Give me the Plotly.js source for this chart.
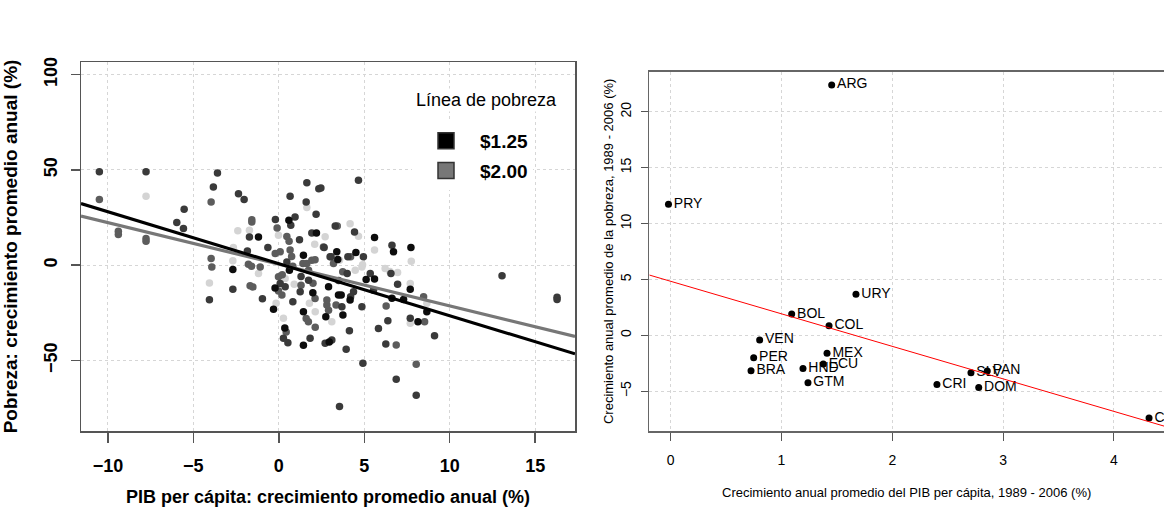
<!DOCTYPE html>
<html>
<head>
<meta charset="utf-8">
<script src="https://cdn.plot.ly/plotly-3.0.1.min.js"></script>
<style>html,body{margin:0;padding:0;background:#fff;}#chart{width:1164px;height:516px;}</style>
</head>
<body>
<div id="chart"></div>
<script>
// ---------- Left panel: poverty growth vs GDP per capita growth (spells) ----------
const blackX = [-2.69,-1.19,-0.31,-0.22,0.35,0.59,0.62,1.44,2.2,1.99,1.44,1.44,2.75,2.91,3.39,3.45,3.49,3.65,3.75,4.17,4.51,5.11,5.6,5.6,6.71,6.62,7.73,7.69,7.3,8.14,8.66,2.95];
const blackY = [-2.3,14.8,-23.1,-12,-33,23.6,-2.6,5.2,16.9,-14.5,-24.4,-42,-27.1,-11.3,7,3,-15.7,-15.7,-26.2,-18.3,6.6,-7.5,-7.3,14.5,7,-17.4,9.3,-12.6,-18,-29.7,-24.4,-40.3];

const darkX = [-10.5,-7.77,-5.97,-5.54,-5.58,-3.59,-3.83,-4.06,-2.69,-2.36,-2.03,-1.72,-1.84,-0.96,-0.64,-0.2,0.08,0.27,0.53,0.66,0.95,0.7,0.47,0.37,0.82,1.21,1.64,1.6,2.18,2.34,1.93,1.3,1.74,1.25,1.83,2.71,3.1,3.0,3.3,2.46,2.65,3.06,4.43,4.04,4.66,4.95,4.0,3.5,3.69,4.37,4.2,4.13,3.94,4.86,4.92,3.55,5.35,5.54,5.83,6.56,6.62,6.95,6.38,6.26,6.87,7.69,8.04,9.11,13.06,16.28,16.28];
const darkY = [49,49,22.4,29.4,19.2,48.3,41,-18.2,-12.6,37.5,34.4,14.8,7.5,-17.6,9.3,24,-9.6,-38.4,-40.7,36.1,25.3,21,1.7,-11.3,-19.2,13.4,43.3,33.1,26.7,40.1,16.9,-6,-7.9,-14,-38.4,-41,-39.3,4.4,20.5,40.5,9.3,4.4,17.4,4.4,44.5,4.4,-4.4,-8,-21.8,-14,-16.5,-34.4,-44.1,-21.8,-51.5,-74.2,-4.4,-13.1,-33.2,-4.4,10.5,-10,-29.1,-41.4,-59.8,-27.9,-68.2,-37,-5.6,-18,-16.8];

const grayX = [-10.5,-9.39,-9.39,-7.77,-7.77,-3.96,-3.96,-3.92,-1.58,-1.58,-1.78,-1.6,-1.09,-1.68,-1.52,-0.1,-0.21,0.08,-0.02,-0.02,0.43,0.47,0.6,0.66,0.75,0.82,0.2,0.18,2.61,1.41,1.64,1.93,2.12,1.74,2.0,1.3,2.12,1.6,1.73,2.13,2.91,2.81,2.81,3.2,3.42,4.2,3.74,3.35,6.28,6.87,8.53,8.47,8.04];
const grayY = [34.4,17.8,16.1,14,12.6,33.1,3.5,-0.9,23.9,22.6,0.5,-0.6,-0.9,-10.8,-11.4,19.5,6.1,7,-6.1,-13.5,-35,15,12.5,7.9,4.5,-0.5,-5,-15.7,9.6,0.9,0.9,2.6,2.9,-2.6,-9.5,-10.5,-17.5,-28,-29.7,-32.6,-23.6,-20.9,-18.3,0.9,20.5,4.4,-3.5,-20.9,-21.4,-41.9,-29.7,-16.6,-52];

const lightX = [-7.77,-4.06,-2.69,-2.66,-2.4,-1.72,-1.19,-0.02,-0.16,0.27,0.37,0.9,1.64,2.1,2.71,1.79,2.13,3.1,3.55,4.17,4.66,4.47,4.86,4.9,5.6,6.22,6.5,6.95,7.75,7.69,7.69,8.66];
const lightY = [36.2,-9.3,2.3,9.3,18,18.3,-4.4,15.7,-20,-27.9,-7,-10,30.2,11,14.9,-20,-24.4,-29.7,2.6,21.8,15.2,-2.6,-0.9,0.2,7.9,-1.7,-3.3,-3.8,2.1,-9.6,-30.5,-20];

// regression lines (intercept, slope) for the $1.25 and $2.00 poverty lines
const legendTitle = 'Línea de pobreza';
const lineNames = ['$1.25', '$2.00'];
const lineIntercepts = [0.75, 0.5];
const lineSlopes = [-2.727, -2.187];

// ---------- Right panel: countries, 1989-2006 ----------
const countries = ['ARG','PRY','URY','BOL','COL','VEN','MEX','PER','ECU','HND','BRA','GTM','CRI','SLV','PAN','DOM','CHL'];
const gdpGrowth = [1.453,-0.02,1.672,1.092,1.429,0.803,1.411,0.749,1.377,1.194,0.725,1.239,2.403,2.71,2.857,2.78,4.317];
const povGrowth = [22.39,11.72,3.67,1.9,0.86,-0.42,-1.61,-2.0,-2.57,-2.98,-3.16,-4.24,-4.41,-3.34,-3.19,-4.68,-7.4];
const regIntercept = 4.83;
const regSlope = -2.909;

// ---------- layout constants (pixel geometry of the 1164x516 figure) ----------
const W = 1164, H = 516;
const M = {l:81, r:0, t:62, b:85};
const PW = W - M.l - M.r, PH = H - M.t - M.b;
const px = v => (v - M.l) / PW;          // figure px -> plot-area fraction (x)
const py = v => 1 - (v - M.t) / PH;      // figure px -> plot-area fraction (y)
const F = '"Liberation Sans", Arial, Helvetica, sans-serif';
const xr1 = [-11.575, 17.33], yr1 = [-87, 106.6];
const xr2 = [-0.193, 4.452], yr2 = [-8.56, 23.58];

function pts(x, y, color) {
  return {type:'scatter', mode:'markers', x:x, y:y, xaxis:'x', yaxis:'y', showlegend:false, hoverinfo:'skip',
    marker:{size:7.5, color:color, line:{width:0}}};
}
const lineColors = ['#000000', '#777777'];
const traces = [
  pts(lightX, lightY, '#d4d4d4'),
  pts(grayX, grayY, '#5c5c5c'),
  pts(darkX, darkY, '#3a3a3a'),
  pts(blackX, blackY, '#0d0d0d')
];
[1, 0].forEach(i => {
  traces.push({type:'scatter', mode:'lines', xaxis:'x', yaxis:'y', showlegend:false, hoverinfo:'skip',
    x: xr1, y: xr1.map(v => lineIntercepts[i] + lineSlopes[i] * v),
    line:{color: lineColors[i], width: 3.2}});
});
[0, 1].forEach(i => {
  traces.push({type:'scatter', mode:'markers', xaxis:'x', yaxis:'y', x:[null], y:[null], name: lineNames[i],
    legendgroup: 'g' + i, showlegend:true,
    marker:{symbol:'square', size:20, color: lineColors[i], line:{color:'#333', width:1.5}}});
});
traces.push({type:'scatter', mode:'markers+text', xaxis:'x2', yaxis:'y2', x:gdpGrowth, y:povGrowth, text:countries,
  textposition:'middle right', textfont:{family:F, size:14, color:'#000'}, showlegend:false, hoverinfo:'skip',
  marker:{size:7, color:'#000'}});
traces.push({type:'scatter', mode:'lines', xaxis:'x2', yaxis:'y2', showlegend:false, hoverinfo:'skip',
  x: xr2, y: xr2.map(v => regIntercept + regSlope * v), line:{color:'#ff0000', width:1}});

const gridCommon = {showgrid:true, gridcolor:'#d6d6d6', griddash:'dot', gridwidth:1, zeroline:false, showline:true};
const layout = {
  width:W, height:H, margin:M, paper_bgcolor:'#fff', plot_bgcolor:'#fff',
  font:{family:F, color:'#000'},
  showlegend:true,
  legend:{x:px(412), y:py(122), xanchor:'left', yanchor:'top', bgcolor:'#fff', borderwidth:0,
    traceorder:'grouped', tracegroupgap:2, itemwidth:58,
    font:{family:F, size:19, color:'#000', weight:'bold'}},
  annotations:[{text:legendTitle, xref:'paper', yref:'paper', x:px(487), y:py(100), xanchor:'center', yanchor:'middle',
    showarrow:false, bgcolor:'#fff', font:{family:F, size:18, color:'#000'}}],
  xaxis:Object.assign({}, gridCommon, {domain:[0, px(575)], range:xr1, anchor:'y', tick0:0, dtick:5,
    ticks:'outside', ticklen:10, tickwidth:1.5, tickcolor:'#555', mirror:true, linecolor:'#555', linewidth:1.5,
    ticklabelstandoff:8, tickfont:{family:F, size:18, weight:'bold', color:'#000'}, automargin:true,
    title:{text:'PIB per cápita: crecimiento promedio anual (%)', standoff:15, font:{family:F, size:18, weight:'bold', color:'#000'}}}),
  yaxis:Object.assign({}, gridCommon, {domain:[0, 1], range:yr1, anchor:'x', tick0:0, dtick:50,
    ticks:'outside', ticklen:9, tickwidth:1.5, tickcolor:'#555', mirror:true, linecolor:'#555', linewidth:1.5,
    tickangle:-90, ticklabelstandoff:6, tickfont:{family:F, size:18, weight:'bold', color:'#000'}, automargin:true,
    title:{text:'Pobreza: crecimiento promedio anual (%)', standoff:20, font:{family:F, size:19, weight:'bold', color:'#000'}}}),
  xaxis2:Object.assign({}, gridCommon, {domain:[px(649.3), 1], range:xr2, anchor:'y2', tick0:0, dtick:1,
    ticks:'outside', ticklen:8, tickwidth:1, tickcolor:'#555', mirror:true, linecolor:'#666', linewidth:1.5,
    ticklabelstandoff:8, tickfont:{family:F, size:14, color:'#000'}, automargin:true,
    title:{text:'Crecimiento anual promedio del PIB per cápita, 1989 - 2006 (%)', standoff:20, font:{family:F, size:13, color:'#000'}}}),
  yaxis2:Object.assign({}, gridCommon, {domain:[0, py(71.7)], range:yr2, anchor:'x2', tick0:0, dtick:5,
    ticks:'outside', ticklen:7, tickwidth:1, tickcolor:'#555', mirror:false, linecolor:'#666', linewidth:1.5,
    tickangle:-90, ticklabelstandoff:4, tickfont:{family:F, size:14, color:'#000'},
    title:{text:'Crecimiento anual promedio de la pobreza, 1989 - 2006 (%)', font:{family:F, size:13, color:'#000'}}})
};
Plotly.newPlot('chart', traces, layout, {staticPlot:true, displayModeBar:false});
</script>
</body>
</html>
